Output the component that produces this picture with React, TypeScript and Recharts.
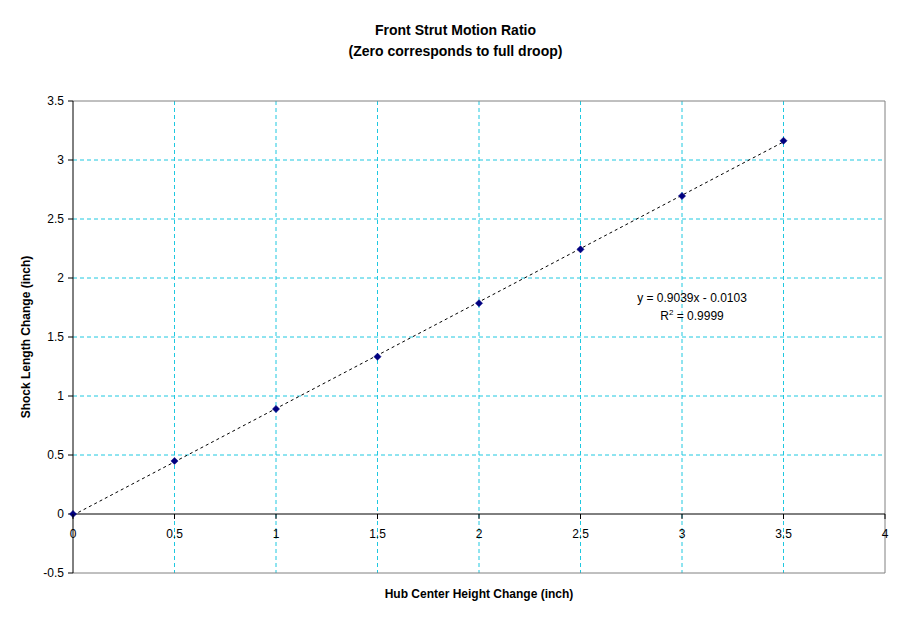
import { ComposedChart, Scatter, XAxis, YAxis, CartesianGrid, ReferenceLine } from "recharts"

// valores
const hubHeight = [0, 0.5, 1, 1.5, 2, 2.5, 3, 3.5]
const shockLength = [0, 0.449, 0.89, 1.333, 1.786, 2.243, 2.695, 3.163]
const xTicks = [0, 0.5, 1, 1.5, 2, 2.5, 3, 3.5, 4]
const yTicks = [-0.5, 0, 0.5, 1, 1.5, 2, 2.5, 3, 3.5]

// línea de tendencia (Excel): y = 0.9039x - 0.0103
const trendSlope = 0.9039
const trendIntercept = -0.0103
const trendRange = [0, 3.5]

const data = hubHeight.map((x, i) => ({ x, y: shockLength[i] }))

const W = 911
const H = 623
const X_AXIS_H = 30
const M = { top: 101, right: 26, bottom: 50 - X_AXIS_H, left: 0 }
const Y_AXIS_W = 73
const PLOT_W = W - M.left - M.right - Y_AXIS_W
const PLOT_H = H - M.top - M.bottom - X_AXIS_H
const X_MIN = 0
const X_MAX = 4
const Y_MIN = -0.5
const Y_MAX = 3.5
const ZERO_Y = M.top + (PLOT_H * (Y_MAX - 0)) / (Y_MAX - Y_MIN)

const FONT = '"Liberation Sans", Arial, sans-serif'
const GRID = '#1ec8e0'
const BORDER = '#808080'

// la rejilla sólo dentro del área; los bordes los pintan las ReferenceLine
const innerX = xTicks.filter((v) => v > X_MIN && v < X_MAX)
const innerY = yTicks.filter((v) => v > Y_MIN && v < Y_MAX && v !== 0)

const gridY = ({ offset }: any) => {
  const top = offset?.top ?? M.top
  const h = offset?.height ?? PLOT_H
  return innerY.map((v) => top + (h * (Y_MAX - v)) / (Y_MAX - Y_MIN))
}
const gridX = ({ offset }: any) => {
  const left = offset?.left ?? M.left + Y_AXIS_W
  const w = offset?.width ?? PLOT_W
  return innerX.map((v) => left + (w * (v - X_MIN)) / (X_MAX - X_MIN))
}

const Diamond = (props: any) => {
  const { cx, cy } = props
  const r = 3.6
  return (
    <polygon
      points={`${cx},${cy - r} ${cx + r},${cy} ${cx},${cy + r} ${cx - r},${cy}`}
      fill="#000080"
      stroke="#000080"
      strokeWidth={0.5}
    />
  )
}

// etiquetas del eje X dibujadas sobre la línea del cero
const XTick = (props: any) => {
  const { x, payload } = props
  return (
    <g>
      <line x1={x} x2={x} y1={ZERO_Y} y2={ZERO_Y + 5} stroke="#000" />
      <text x={x} y={ZERO_Y + 24} textAnchor="middle" fontSize={12} fontFamily={FONT} fill="#000">
        {payload.value}
      </text>
    </g>
  )
}

export default function App() {
  const t0 = trendRange[0]
  const t1 = trendRange[1]
  return (
    <div style={{ position: 'absolute', left: 0, top: 0, width: W, height: H, background: '#fff', fontFamily: FONT }}>
      <div style={{ position: 'absolute', left: 0, width: W, top: 20, textAlign: 'center', fontSize: 14, fontWeight: 'bold', lineHeight: '21px' }}>
        Front Strut Motion Ratio
        <br />
        (Zero corresponds to full droop)
      </div>

      <ComposedChart width={W} height={H} margin={M}>
        <CartesianGrid
          stroke={GRID}
          strokeDasharray="4 3"
          horizontalCoordinatesGenerator={gridY}
          verticalCoordinatesGenerator={gridX}
        />
        <XAxis
          type="number"
          dataKey="x"
          domain={[X_MIN, X_MAX]}
          ticks={xTicks}
          interval={0}
          height={X_AXIS_H}
          axisLine={false}
          tickLine={false}
          tick={(p: any) => <XTick {...p} />}
        />
        <YAxis
          type="number"
          dataKey="y"
          domain={[Y_MIN, Y_MAX]}
          ticks={yTicks}
          interval={0}
          width={Y_AXIS_W}
          axisLine={{ stroke: '#000' }}
          tickLine={{ stroke: '#000' }}
          tickSize={5}
          tickMargin={4}
          tick={{ fill: '#000', fontSize: 12, fontFamily: FONT }}
        />
        <ReferenceLine y={Y_MAX} stroke={BORDER} />
        <ReferenceLine y={Y_MIN} stroke={BORDER} />
        <ReferenceLine x={X_MAX} stroke={BORDER} />
        <ReferenceLine y={0} stroke="#000" />
        <ReferenceLine
          segment={[
            { x: t0, y: trendSlope * t0 + trendIntercept },
            { x: t1, y: trendSlope * t1 + trendIntercept },
          ]}
          stroke="#000"
          strokeDasharray="3 3"
        />
        <Scatter data={data} dataKey="y" shape={<Diamond />} isAnimationActive={false} />
      </ComposedChart>

      <div style={{ position: 'absolute', left: 592, width: 200, top: 289, textAlign: 'center', fontSize: 12, lineHeight: '18px' }}>
        y = 0.9039x - 0.0103
        <br />
        R<sup style={{ fontSize: 8, lineHeight: 0 }}>2</sup> = 0.9999
      </div>

      <div style={{ position: 'absolute', left: 279, width: 400, top: 587, textAlign: 'center', fontSize: 12, fontWeight: 'bold' }}>
        Hub Center Height Change (inch)
      </div>
      <div
        style={{
          position: 'absolute',
          left: 27 - 150,
          width: 300,
          top: 337 - 8,
          textAlign: 'center',
          fontSize: 12,
          fontWeight: 'bold',
          transform: 'rotate(-90deg)',
          transformOrigin: '150px 8px',
        }}
      >
        Shock Length Change (inch)
      </div>
    </div>
  )
}
